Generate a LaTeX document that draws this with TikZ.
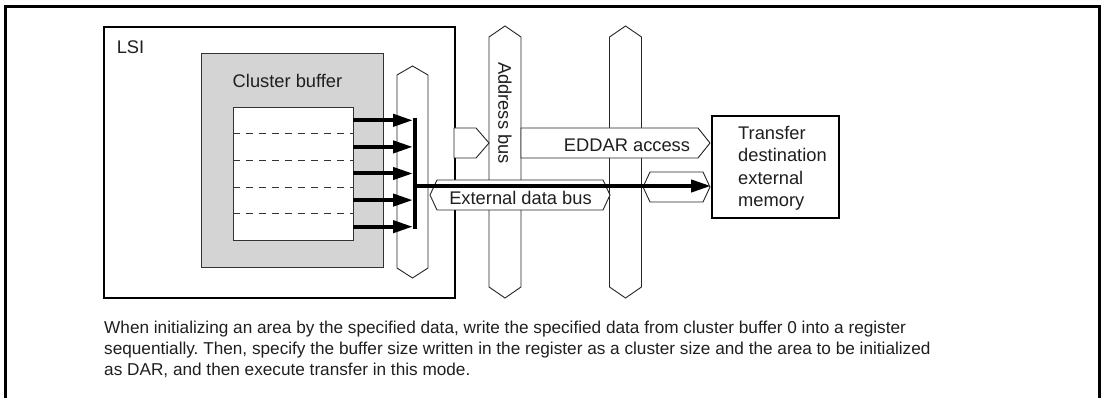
\documentclass[tikz,border=0pt]{standalone}
\usepackage{fontspec}
\setmainfont{Liberation Sans}
\usetikzlibrary{arrows.meta}
\frenchspacing

\begin{document}
\begin{tikzpicture}[
  x=1pt,
  y=-1pt,
  frame/.style={line width=3pt},
  chip/.style={draw, line width=2.4pt, fill=white},
  bufbox/.style={draw=black!80, line width=0.8pt, fill=black!17},
  cellbox/.style={draw=black!80, line width=0.8pt, fill=white},
  rowbox/.style={minimum width=120pt, minimum height=26.6pt, inner sep=0pt},
  sep/.style={dash pattern=on 7pt off 6pt, line width=0.7pt, draw=black!80},
  bus/.style={draw=black!85, line width=0.9pt, fill=white, line join=miter},
  wide/.style={line width=4pt},
  push/.style={-{Triangle[length=20pt, width=12pt]}, line width=4pt},
  lbl/.style={font=\fontsize{18.3}{22.3}\selectfont, inner sep=0pt, text=black!88},
  note/.style={font=\fontsize{17.2}{20.8}\selectfont, align=left, inner sep=0pt, text=black!88}
]
\useasboundingbox (0,0) rectangle (1103,398);
\draw[frame] (5,398) -- (5,7) -- (1099,7) -- (1099,398);

\node[chip, minimum width=351pt, minimum height=271pt, anchor=north west] (lsi) at (103,26) {};
\node[lbl] (lsilbl) at (130.5,47) {LSI};

\node[bufbox, minimum width=182pt, minimum height=214pt, anchor=north west] (cbuf) at (201,53) {};
\node[lbl] (cbuflbl) at (287.5,81) {Cluster buffer};
\node[cellbox, minimum width=120pt, minimum height=133pt, anchor=north west] (cells) at (233,107) {};
\foreach \i in {1,...,5}
  \node[rowbox] (r\i) at (293,{107+26.6*(\i-0.5)}) {};
\foreach \i in {1,...,4}
  \draw[sep] (r\i.south west) -- (r\i.south east);

\draw[bus] (412.5,66) -- (428,75) -- (428,268) -- (412.5,278) -- (397,268) -- (397,75) -- cycle;

\foreach \bx in {505,625.5}
  \draw[bus] (\bx,26) -- (\bx+16,37) -- (\bx+16,287) -- (\bx,298) -- (\bx-16,287) -- (\bx-16,37) -- cycle;
\node[lbl, rotate=-90] (abus) at (505,113) {Address bus};

\draw[bus] (454,128) -- (476,128) -- (489,143) -- (476,158) -- (454,158) -- cycle;
\draw[bus] (521,128) -- (698,128) -- (710,143) -- (698,158) -- (521,158) -- cycle;
\node[lbl] (eddar) at (627,145) {EDDAR access};

\draw[bus] (430,195) -- (437,180) -- (603,180) -- (610,195) -- (603,210) -- (437,210) -- cycle;
\draw[bus] (643,187) -- (650,172) -- (703,172) -- (710,187) -- (703,202) -- (650,202) -- cycle;
\node[lbl] (dbus) at (520.5,198) {External data bus};

\node[chip, minimum width=127pt, minimum height=102pt, anchor=north west] (dst) at (711,115) {};
\node[lbl, align=left, anchor=north west] (dstlbl) at (738,126) {Transfer\\destination\\external\\memory};

\coordinate (bartop) at (415,118);
\coordinate (barbot) at (415,229);
\draw[wide] (bartop) -- (barbot);
\foreach \i in {1,...,5}
  \draw[push, shorten >=2pt] (r\i.east) -- (r\i.east -| bartop);
\coordinate (tap) at (415,186);
\draw[push] (tap) -- (tap -| dst.west);

\node[note, anchor=north west] (caption) at (104,321) {When initializing an area by the specified data, write the specified data from cluster buffer 0 into a register\\sequentially. Then, specify the buffer size written in the register as a cluster size and the area to be initialized\\as DAR, and then execute transfer in this mode.};
\end{tikzpicture}
\end{document}
